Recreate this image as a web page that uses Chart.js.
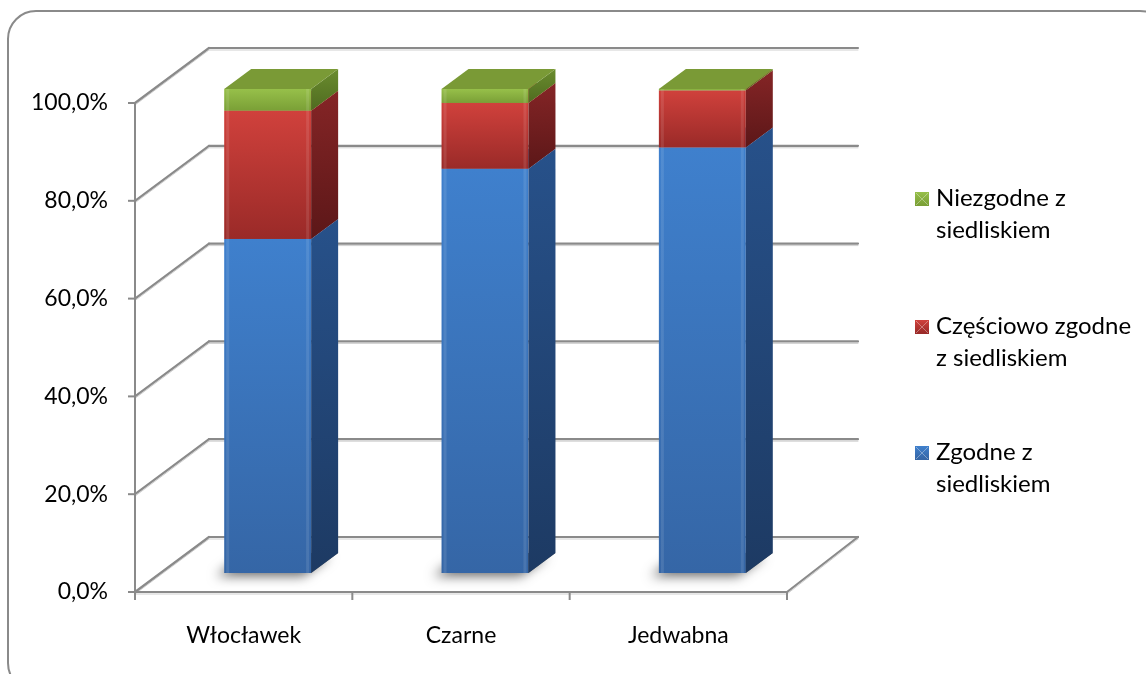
<!DOCTYPE html>
<html>
<head>
<meta charset="utf-8">
<script src="https://cdn.jsdelivr.net/npm/chart.js@4.4.1/dist/chart.umd.min.js"></script>
<style>
    html, body { margin: 0; padding: 0; background: #fff; }
    #wrap { width: 1146px; height: 674px; }
</style>
</head>
<body>
<div id="wrap"><canvas id="siedliskaChart"></canvas></div>
<script>
// dane
const miejsca = ['Włocławek', 'Czarne', 'Jedwabna'];
const zgodne = [69.0, 83.5, 87.9];
const czesciowoZgodne = [26.5, 13.6, 11.8];
const niezgodne = [4.5, 2.9, 0.3];
const etykietyLegendy = [
    ['Niezgodne z', 'siedliskiem'],
    ['Częściowo zgodne', 'z siedliskiem'],
    ['Zgodne z', 'siedliskiem']
];

// kolory: przód (jasny, ciemny), bok, wierzch
const kolory = [
    { front: ['#3f80cd', '#3566a6'], side: ['#27518a', '#1d3a63'], top: '#5c96d8' },
    { front: ['#d0413c', '#9a2a28'], side: ['#852526', '#5c1718'], top: '#d45a55' },
    { front: ['#97c04a', '#7a9f36'], side: ['#6a8c2e', '#4f6b20'], top: '#7a9a36' }
];

// przesunięcia 3D
const sciana = { dx: 74, dy: -55 };      // tylna ściana
const slupekPrzod = { dx: 24, dy: -19 }; // przednia ściana słupka
const slupekGlebia = { dx: 27, dy: -20 };
const skalaSlupka = 0.99;

const FONT = 'Lato, "Open Sans", sans-serif';
const ROZMIAR = 23;

function liniaSzara(ctx, x1, y1, x2, y2) {
    ctx.save();
    ctx.lineCap = 'round';
    ctx.strokeStyle = '#d0d0d0';
    ctx.lineWidth = 1;
    ctx.beginPath();
    ctx.moveTo(x1, y1 + 2);
    ctx.lineTo(x2, y2 + 2);
    ctx.stroke();
    ctx.strokeStyle = '#8a8a8a';
    ctx.lineWidth = 2.2;
    ctx.beginPath();
    ctx.moveTo(x1, y1);
    ctx.lineTo(x2, y2);
    ctx.stroke();
    ctx.restore();
}

const sciany3d = {
    id: 'sciany3d',
    beforeDatasetsDraw(chart) {
        const { ctx, chartArea: a, scales: { x, y } } = chart;
        const ticks = y.ticks.map(t => y.getPixelForValue(t.value));

        // siatka na tylnej i lewej ścianie
        ticks.forEach(py => {
            liniaSzara(ctx, a.left, py, a.left + sciana.dx, py + sciana.dy);
            liniaSzara(ctx, a.left + sciana.dx, py + sciana.dy, a.right + sciana.dx - 3, py + sciana.dy);
            // znaczniki osi Y
            ctx.save();
            ctx.strokeStyle = '#8a8a8a';
            ctx.lineWidth = 2;
            ctx.beginPath();
            ctx.moveTo(a.left - 7, py);
            ctx.lineTo(a.left, py);
            ctx.stroke();
            ctx.restore();
        });

        // podłoga
        liniaSzara(ctx, a.right, a.bottom, a.right + sciana.dx - 3, a.bottom + sciana.dy);
        liniaSzara(ctx, a.left, a.bottom, a.right, a.bottom);

        // oś Y
        ctx.save();
        ctx.strokeStyle = '#8a8a8a';
        ctx.lineWidth = 2;
        ctx.beginPath();
        ctx.moveTo(a.left, a.top);
        ctx.lineTo(a.left, a.bottom + 8);
        ctx.stroke();
        // znaczniki osi X na granicach kategorii
        for (let i = 1; i <= miejsca.length; i++) {
            const px = a.left + (a.right - a.left) * i / miejsca.length;
            ctx.beginPath();
            ctx.moveTo(px, a.bottom);
            ctx.lineTo(px, a.bottom + 8);
            ctx.stroke();
        }
        ctx.restore();
    },
    afterDatasetsDraw(chart) {
        const { ctx, scales: { y } } = chart;
        const zero = y.getPixelForValue(0);
        const n = chart.data.labels.length;

        for (let j = 0; j < n; j++) {
            // cień pod słupkiem
            const b0 = chart.getDatasetMeta(0).data[j];
            ctx.save();
            ctx.shadowColor = 'rgba(0,0,0,0.6)';
            ctx.shadowBlur = 12;
            ctx.shadowOffsetX = -8;
            ctx.shadowOffsetY = 3;
            ctx.fillStyle = '#666';
            ctx.beginPath();
            const sx = b0.x - b0.width / 2 + slupekPrzod.dx;
            const sy = zero + slupekPrzod.dy;
            ctx.moveTo(sx, sy);
            ctx.lineTo(sx + b0.width, sy);
            ctx.lineTo(sx + b0.width + slupekGlebia.dx, sy + slupekGlebia.dy);
            ctx.lineTo(sx + slupekGlebia.dx, sy + slupekGlebia.dy);
            ctx.closePath();
            ctx.fill();
            ctx.restore();

            chart.data.datasets.forEach((ds, i) => {
                const bar = chart.getDatasetMeta(i).data[j];
                const k = kolory[i];
                const xl = bar.x - bar.width / 2 + slupekPrzod.dx;
                const xr = bar.x + bar.width / 2 + slupekPrzod.dx;
                const yt = zero + (bar.y - zero) * skalaSlupka + slupekPrzod.dy;
                const yb = zero + (bar.base - zero) * skalaSlupka + slupekPrzod.dy;
                const gx = slupekGlebia.dx, gy = slupekGlebia.dy;

                // przód
                let g = ctx.createLinearGradient(0, yt, 0, yb);
                g.addColorStop(0, k.front[0]);
                g.addColorStop(1, k.front[1]);
                ctx.fillStyle = g;
                ctx.fillRect(xl, yt, xr - xl, yb - yt);
                // jaśniejsze krawędzie przodu
                ctx.fillStyle = 'rgba(255,255,255,0.10)';
                ctx.fillRect(xl + 2, yt, 3, yb - yt);
                ctx.fillRect(xr - 5, yt, 3, yb - yt);

                // bok
                g = ctx.createLinearGradient(0, yt + gy, 0, yb);
                g.addColorStop(0, k.side[0]);
                g.addColorStop(1, k.side[1]);
                ctx.fillStyle = g;
                ctx.beginPath();
                ctx.moveTo(xr, yt);
                ctx.lineTo(xr + gx, yt + gy);
                ctx.lineTo(xr + gx, yb + gy);
                ctx.lineTo(xr, yb);
                ctx.closePath();
                ctx.fill();

                // wierzch
                ctx.fillStyle = k.top;
                ctx.beginPath();
                ctx.moveTo(xl, yt);
                ctx.lineTo(xl + gx, yt + gy);
                ctx.lineTo(xr + gx, yt + gy);
                ctx.lineTo(xr, yt);
                ctx.closePath();
                ctx.fill();
            });
        }
    },
    afterDraw(chart) {
        const { ctx } = chart;

        // legenda po prawej
        const pozycje = [198, 326, 452];
        ctx.save();
        ctx.font = '24px ' + FONT;
        ctx.textBaseline = 'middle';
        ctx.fillStyle = '#000';
        etykietyLegendy.forEach((linie, i) => {
            const k = kolory[2 - i];
            const yy = pozycje[i];
            const g = ctx.createLinearGradient(0, yy - 6, 0, yy + 7);
            g.addColorStop(0, k.front[0]);
            g.addColorStop(1, k.front[1]);
            ctx.fillStyle = g;
            ctx.fillRect(915, yy - 6, 14, 14);
            ctx.strokeStyle = 'rgba(255,255,255,0.35)';
            ctx.lineWidth = 1;
            ctx.beginPath();
            ctx.moveTo(916, yy - 5); ctx.lineTo(928, yy + 7);
            ctx.moveTo(928, yy - 5); ctx.lineTo(916, yy + 7);
            ctx.stroke();
            ctx.fillStyle = '#000';
            linie.forEach((t, l) => ctx.fillText(t, 936, yy + l * 32));
        });
        ctx.restore();

        // ramka wykresu
        ctx.save();
        ctx.strokeStyle = '#8a8a8a';
        ctx.lineWidth = 2;
        ctx.beginPath();
        ctx.roundRect(8, 11, 1160, 680, 28);
        ctx.stroke();
        ctx.restore();
    }
};

const siedliskaCtx = document.getElementById('siedliskaChart').getContext('2d');
const siedliskaChart = new Chart(siedliskaCtx, {
    type: 'bar',
    data: {
        labels: miejsca,
        datasets: [
            { label: 'Zgodne z siedliskiem', data: zgodne },
            { label: 'Częściowo zgodne z siedliskiem', data: czesciowoZgodne },
            { label: 'Niezgodne z siedliskiem', data: niezgodne }
        ].map(ds => ({ ...ds, backgroundColor: 'transparent', borderWidth: 0 }))
    },
    options: {
        responsive: true,
        maintainAspectRatio: false,
        animation: false,
        events: [],
        layout: { padding: { left: 0, top: 103, right: 359, bottom: 22 } },
        categoryPercentage: 1,
        barPercentage: 0.4,
        plugins: {
            legend: { display: false },
            tooltip: { enabled: false }
        },
        scales: {
            x: {
                stacked: true,
                grid: { display: false, drawTicks: false },
                border: { display: false },
                ticks: {
                    color: '#000',
                    padding: 30,
                    font: { family: FONT, size: ROZMIAR },
                    maxRotation: 0
                },
                afterFit(scale) { scale.height = 60; }
            },
            y: {
                stacked: true,
                min: 0,
                max: 100,
                grid: { display: false, drawTicks: false },
                border: { display: false },
                ticks: {
                    stepSize: 20,
                    color: '#000',
                    padding: 27,
                    font: { family: FONT, size: ROZMIAR },
                    callback: v => v.toFixed(1).replace('.', ',') + '%'
                },
                afterFit(scale) { scale.width = 135; }
            }
        }
    },
    plugins: [sciany3d]
});
</script>
</body>
</html>
